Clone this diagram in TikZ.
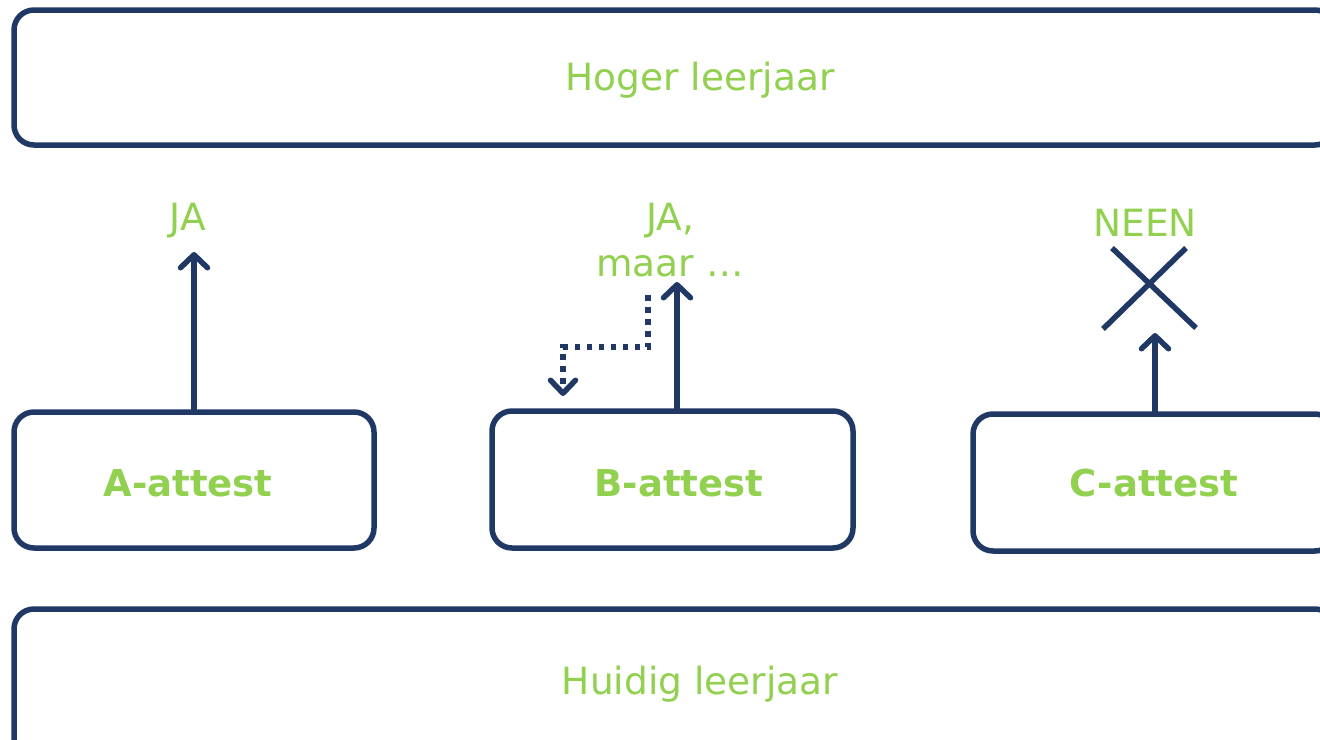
\documentclass[tikz,border=0pt]{standalone}
\usepackage{fontspec}
\setmainfont{DejaVu Sans}
\usetikzlibrary{arrows.meta}
\definecolor{navy}{RGB}{31,56,100}
\definecolor{lgreen}{RGB}{146,208,80}
\begin{document}
\begin{tikzpicture}[x=1pt,y=-1pt,
  box/.style={draw=navy,line width=5.5pt,rounded corners=20pt},
  lbl/.style={text=lgreen,font=\fontsize{37.5}{46}\selectfont,inner sep=0pt,align=center},
  blbl/.style={text=lgreen,font=\fontsize{37}{44}\selectfont\bfseries,inner sep=0pt},
  conn/.style={draw=navy,line width=5.5pt,-{Straight Barb[length=13pt,width=27pt,line cap=round,line join=round]}},
  dotconn/.style={draw=navy,line width=5.5pt,dash pattern=on 5.5pt off 6.5pt,-{Straight Barb[length=13pt,width=25pt,line cap=round,line join=round]}},
  cross/.style={draw=navy,line width=5.5pt}]
\useasboundingbox (0,0) rectangle (1320,739);
\fill[white] (0,0) rectangle (1320,739);
% big boxes
\draw[box] (14,10) rectangle (1335,145);
\node[lbl] (hoger) at (700,80) {Hoger leerjaar};
\draw[box] (14,609) rectangle (1335,760);
\node[lbl] (huidig) at (700,684) {Huidig leerjaar};
% attest boxes
\draw[box] (14,412) rectangle (374,548);
\coordinate (Atop) at (194,412);
\node[blbl] (A) at (188,483) {A-attest};
\draw[box] (492,411) rectangle (853,548);
\coordinate (Btop) at (677,411);
\node[blbl] (B) at (679,483) {B-attest};
\draw[box] (973,414) rectangle (1335,551);
\coordinate (Ctop) at (1155,414);
\node[blbl] (C) at (1154,483) {C-attest};
% A
\coordinate (Aend) at (194,252);
\draw[conn] (Atop) -- (Aend);
\node[lbl] (ja) at (188,221) {JA};
% B
\coordinate (Bend) at (677,282);
\draw[conn] (Btop) -- (Bend);
\node[lbl] (jamaar) at (670,240) {JA,\\maar …};
\coordinate (d1) at (648,295);
\coordinate (d2) at (648,347);
\coordinate (d3) at (563,347);
\coordinate (d4) at (563,396);
\draw[dotconn] (d1) -- (d2) -- (d3) -- (d4);
% C
\coordinate (Cend) at (1155,333);
\draw[conn] (Ctop) -- (Cend);
\node[lbl] (neen) at (1145,223) {NEEN};
\coordinate (x1) at (1112,248);
\coordinate (x2) at (1196,328);
\coordinate (x3) at (1186,248);
\coordinate (x4) at (1103,329);
\draw[cross] (x1) -- (x2);
\draw[cross] (x3) -- (x4);
\end{tikzpicture}
\end{document}
